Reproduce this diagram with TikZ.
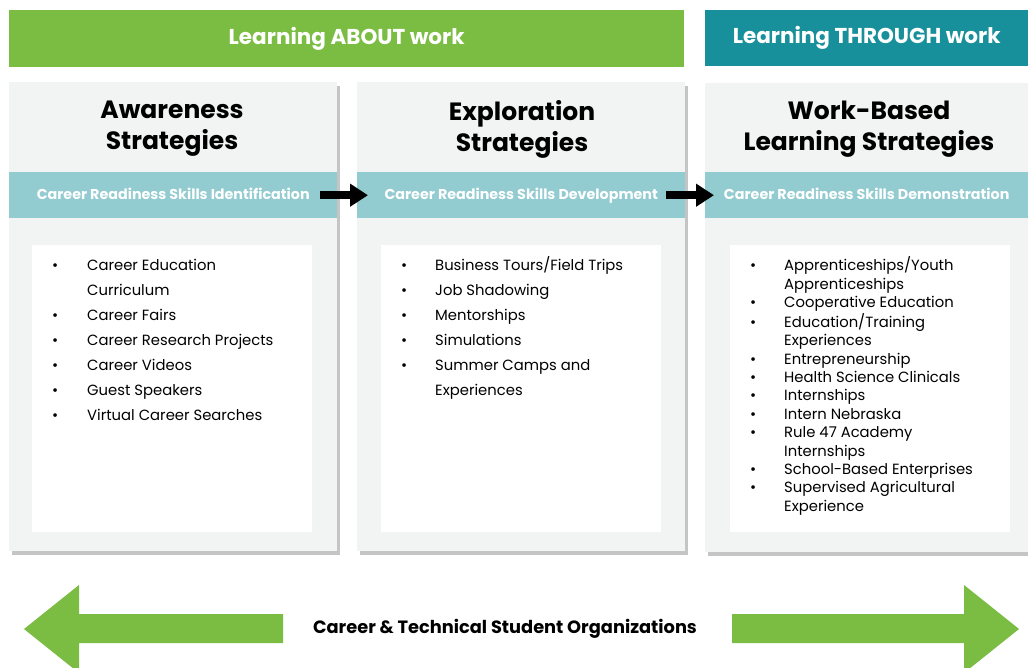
\documentclass[tikz,border=0pt]{standalone}
\usepackage{fontspec}
\setmainfont{Poppins}
\usetikzlibrary{arrows.meta,shadows,positioning}
\definecolor{leafgreen}{RGB}{122,189,66}
\definecolor{deepteal}{RGB}{23,144,155}
\definecolor{paleteal}{RGB}{146,203,208}
\definecolor{panelgray}{RGB}{242,244,244}
\tikzset{
  banner/.style={fill=#1, text=white, font=\bfseries\fontsize{21.5}{25}\selectfont,
    inner sep=0pt, anchor=north west},
  panel/.style={fill=panelgray, inner sep=0pt, anchor=north west,
    minimum width=328pt, minimum height=469pt,
    drop shadow={shadow xshift=3pt, shadow yshift=-4pt, opacity=.45}},
  band/.style={fill=paleteal, text=white, font=\bfseries\fontsize{14.3}{16}\selectfont,
    inner sep=0pt, anchor=north west, minimum width=328pt, minimum height=46pt,
    text height=10pt, text depth=2pt},
  listbox/.style={fill=white, inner sep=0pt, anchor=north west,
    minimum width=280pt, minimum height=287pt},
  title/.style={font=\bfseries\fontsize{25}{31}\selectfont, align=center},
  items/.style={inner sep=0pt, anchor=base west},
  flow/.style={line width=8pt, -{Triangle[length=18pt,width=22pt]}},
  ctso/.style={fill=leafgreen}
}
\begin{document}
\begin{tikzpicture}[x=1pt,y=-1pt]
\useasboundingbox[fill=white] (0,0) rectangle (1028,668);

% top banners
\node[banner=leafgreen, minimum width=675pt, minimum height=57pt] (about) at (9,10) {Learning ABOUT work};
\node[banner=deepteal, minimum width=323pt, minimum height=56pt] (through) at (705,10) {Learning THROUGH work};

% panels
\node[panel] (pnlA) at (9,82) {};
\node[panel] (pnlB) at (357,82) {};
\node[panel, minimum width=330pt] (pnlC) at (705,83) {};

\node[title] (ttlA) at (172,129) {Awareness\\Strategies};
\node[title] (ttlB) at (522,129) {Exploration\\Strategies};
\node[title] (ttlC) at (869,129) {Work-Based\\Learning Strategies};

\node[band] (bandA) at (9,172) {Career Readiness Skills Identification};
\node[band] (bandB) at (357,172) {Career Readiness Skills Development};
\node[band, minimum width=323pt] (bandC) at (705,172) {Career Readiness Skills Demonstration};

\draw[flow] ([xshift=-17pt]bandA.east) -- ([xshift=11pt]bandB.west);
\draw[flow] ([xshift=-19pt]bandB.east) -- ([xshift=9pt]bandC.west);

\node[listbox] (boxA) at (32,245) {};
\node[listbox] (boxB) at (381,245) {};
\node[listbox] (boxC) at (730,245) {};

% bullet lists
\node[items] (lstA) at (52,271) {\fontsize{14.8}{25}\selectfont
  \begin{tabular}[t]{@{}p{35pt}@{}l@{}}
  \textbullet & Career Education\\
              & Curriculum\\
  \textbullet & Career Fairs\\
  \textbullet & Career Research Projects\\
  \textbullet & Career Videos\\
  \textbullet & Guest Speakers\\
  \textbullet & Virtual Career Searches
  \end{tabular}};
\node[items] (lstB) at (401,271) {\fontsize{14.8}{25}\selectfont
  \begin{tabular}[t]{@{}p{34pt}@{}l@{}}
  \textbullet & Business Tours/Field Trips\\
  \textbullet & Job Shadowing\\
  \textbullet & Mentorships\\
  \textbullet & Simulations\\
  \textbullet & Summer Camps and\\
              & Experiences
  \end{tabular}};
\node[items] (lstC) at (750,271) {\fontsize{14.8}{18.4}\selectfont
  \begin{tabular}[t]{@{}p{34pt}@{}l@{}}
  \textbullet & Apprenticeships/Youth\\
              & Apprenticeships\\
  \textbullet & Cooperative Education\\
  \textbullet & Education/Training\\
              & Experiences\\
  \textbullet & Entrepreneurship\\
  \textbullet & Health Science Clinicals\\
  \textbullet & Internships\\
  \textbullet & Intern Nebraska\\
  \textbullet & Rule 47 Academy\\
              & Internships\\
  \textbullet & School-Based Enterprises\\
  \textbullet & Supervised Agricultural\\
              & Experience
  \end{tabular}};

% bottom arrows
\node[font=\bfseries\fontsize{17.8}{21}\selectfont] (orgs) at (505,629) {Career \& Technical Student Organizations};
\fill[ctso] (24,629) -- (79,585) -- (79,614) -- (283,614) -- (283,643) -- (79,643) -- (79,673) -- cycle;
\fill[ctso] (1019,629) -- (964,585) -- (964,614) -- (732,614) -- (732,643) -- (964,643) -- (964,673) -- cycle;
\end{tikzpicture}
\end{document}
